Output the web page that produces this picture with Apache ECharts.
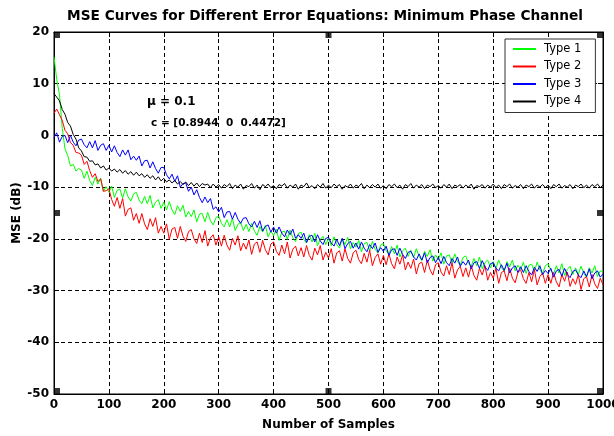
<!DOCTYPE html>
<html>
<head>
<meta charset="utf-8">
<script src="https://cdn.jsdelivr.net/npm/echarts@6/dist/echarts.min.js"></script>
<style>html,body{margin:0;padding:0;background:#fff}#c{width:614px;height:436px}</style>
</head>
<body>
<div id="c"></div>
<script>
// sample spacing of the values below (one value every 5 samples, 0..1000)
const STEP = 5;
const titleText = 'MSE Curves for Different Error Equations: Minimum Phase Channel';
const xName = 'Number of Samples';
const yName = 'MSE (dB)';
const seriesNames = ['Type 1', 'Type 2', 'Type 3', 'Type 4'];
const annotation1 = 'μ = 0.1';
const annotation2 = 'c = [0.8944  0  0.4472]';

const type1 = [
  15.2, 10.8, 7.9, 1.4, -2.6, -3.9, -5.9, -5.6, -6.9, -6.4,
  -6.7, -8.3, -6.9, -8.7, -9.7, -8.1, -9.4, -8.3, -10.8, -9.9,
  -11.0, -9.8, -12.0, -10.6, -10.4, -12.1, -10.3, -11.9, -12.7, -11.3,
  -11.0, -12.5, -13.2, -11.8, -13.2, -11.6, -14.0, -12.9, -12.4, -14.1,
  -12.9, -14.4, -12.8, -14.4, -15.3, -13.6, -14.7, -13.5, -15.8, -14.7,
  -15.7, -14.4, -16.7, -15.2, -15.1, -16.7, -14.9, -16.5, -17.3, -15.9,
  -15.6, -17.0, -17.7, -16.3, -17.7, -16.0, -18.4, -17.2, -16.8, -18.4,
  -17.2, -18.6, -17.0, -18.5, -19.3, -17.6, -18.7, -17.4, -19.6, -18.5,
  -19.4, -18.1, -20.3, -18.7, -18.5, -20.1, -18.3, -19.8, -20.5, -19.0,
  -18.7, -20.1, -20.8, -19.2, -20.6, -18.9, -21.3, -20.1, -19.5, -21.1,
  -19.9, -21.3, -19.6, -21.1, -21.8, -20.0, -21.1, -19.7, -21.9, -20.7,
  -21.6, -20.3, -22.5, -20.9, -20.7, -22.3, -20.5, -22.0, -22.7, -21.2,
  -20.9, -22.3, -23.0, -21.5, -22.9, -21.2, -23.5, -22.3, -21.8, -23.4,
  -22.2, -23.6, -21.9, -23.4, -24.2, -22.4, -23.4, -22.1, -24.3, -23.1,
  -24.0, -22.7, -24.9, -23.3, -23.1, -24.7, -22.9, -24.4, -25.1, -23.6,
  -23.3, -24.7, -25.3, -23.8, -25.2, -23.5, -25.8, -24.6, -24.1, -25.6,
  -24.4, -25.7, -24.1, -25.5, -26.3, -24.4, -25.4, -24.1, -26.2, -25.1,
  -25.9, -24.5, -26.7, -25.1, -24.9, -26.4, -24.5, -26.0, -26.7, -25.2,
  -24.8, -26.1, -26.8, -25.2, -26.6, -24.8, -27.1, -25.9, -25.3, -26.9,
  -25.6, -26.9, -25.3, -26.7, -27.4, -25.6, -26.6, -25.2, -27.3, -26.2,
  -26.3
];

const type2 = [
  4.3, 5.1, 4.0, 2.9, 1.0, 0.3, -1.4, -1.9, -3.3, -3.4,
  -3.8, -5.6, -5.0, -6.8, -8.1, -7.4, -8.9, -8.4, -10.8, -10.7,
  -10.3, -12.4, -13.7, -12.0, -14.1, -12.2, -15.6, -14.3, -14.0, -16.4,
  -15.1, -17.0, -15.1, -17.1, -18.2, -16.1, -17.6, -15.9, -18.9, -17.6,
  -18.9, -17.1, -20.1, -18.1, -17.8, -19.9, -17.6, -19.5, -20.5, -18.6,
  -18.2, -20.0, -20.9, -18.9, -20.7, -18.4, -21.4, -19.8, -19.2, -21.2,
  -19.6, -21.4, -19.3, -21.2, -22.2, -19.9, -21.2, -19.4, -22.3, -20.8,
  -22.0, -20.2, -23.0, -21.0, -20.6, -22.6, -20.3, -22.1, -23.1, -21.0,
  -20.6, -22.4, -23.2, -21.2, -22.9, -20.6, -23.7, -22.0, -21.4, -23.3,
  -21.7, -23.5, -21.3, -23.2, -24.1, -21.8, -23.1, -21.3, -24.1, -22.6,
  -23.7, -21.9, -24.7, -22.7, -22.3, -24.3, -21.9, -23.8, -24.7, -22.7,
  -22.2, -24.0, -24.8, -22.8, -24.5, -22.2, -25.2, -23.6, -22.9, -24.9,
  -23.2, -25.0, -22.9, -24.8, -25.8, -23.5, -24.9, -23.1, -26.0, -24.5,
  -25.7, -23.9, -26.8, -24.8, -24.5, -26.5, -24.1, -26.0, -27.0, -25.0,
  -24.6, -26.4, -27.2, -25.2, -26.9, -24.6, -27.6, -26.0, -25.3, -27.3,
  -25.6, -27.4, -25.2, -27.1, -28.0, -25.7, -27.0, -25.2, -28.0, -26.5,
  -27.6, -25.7, -28.6, -26.5, -26.2, -28.1, -25.7, -27.6, -28.5, -26.5,
  -26.0, -27.7, -28.6, -26.5, -28.3, -25.9, -28.9, -27.3, -26.6, -28.6,
  -26.9, -28.6, -26.5, -28.3, -29.3, -26.9, -28.2, -26.4, -29.2, -27.7,
  -28.8, -26.9, -29.8, -27.7, -27.3, -29.3, -26.9, -28.7, -29.6, -27.6,
  -28.9
];

const type3 = [
  -0.4, 0.5, -1.3, -0.2, 0.0, -1.4, 0.0, -1.3, -2.0, -0.9,
  -0.7, -1.8, -2.4, -1.2, -2.4, -1.0, -2.9, -1.9, -1.6, -2.9,
  -1.9, -3.2, -2.0, -3.3, -4.1, -2.8, -3.8, -2.8, -4.7, -4.0,
  -4.8, -4.0, -5.9, -4.9, -4.8, -6.3, -5.1, -6.4, -7.3, -6.2,
  -6.2, -7.6, -8.4, -7.5, -8.9, -7.8, -10.0, -9.3, -9.2, -10.8,
  -10.0, -11.5, -10.5, -12.0, -13.0, -11.9, -13.0, -12.2, -14.3, -13.8,
  -14.8, -13.9, -15.9, -14.8, -14.7, -16.2, -14.9, -16.2, -17.0, -16.0,
  -15.9, -17.1, -17.7, -16.6, -17.8, -16.5, -18.5, -17.6, -17.3, -18.7,
  -17.7, -18.9, -17.7, -18.9, -19.6, -18.3, -19.2, -18.1, -19.9, -19.2,
  -19.9, -18.9, -20.7, -19.5, -19.3, -20.6, -19.2, -20.4, -21.1, -19.9,
  -19.7, -20.8, -21.4, -20.1, -21.3, -19.9, -21.9, -20.9, -20.5, -21.8,
  -20.8, -22.0, -20.6, -21.8, -22.5, -21.1, -21.9, -20.8, -22.6, -21.7,
  -22.4, -21.4, -23.2, -22.1, -21.9, -23.2, -21.8, -23.0, -23.8, -22.6,
  -22.4, -23.5, -24.1, -22.9, -24.1, -22.7, -24.6, -23.6, -23.3, -24.6,
  -23.6, -24.8, -23.4, -24.6, -25.2, -23.8, -24.7, -23.5, -25.3, -24.4,
  -25.1, -24.1, -25.8, -24.6, -24.4, -25.7, -24.2, -25.4, -26.1, -24.8,
  -24.6, -25.7, -26.2, -25.0, -26.1, -24.7, -26.6, -25.6, -25.2, -26.5,
  -25.4, -26.5, -25.2, -26.3, -27.0, -25.5, -26.3, -25.2, -26.9, -26.1,
  -26.7, -25.7, -27.4, -26.2, -25.9, -27.2, -25.7, -26.9, -27.5, -26.3,
  -26.0, -27.0, -27.5, -26.2, -27.3, -25.8, -27.7, -26.6, -26.2, -27.4,
  -26.8
];

const type4 = [
  8.1, 7.4, 6.7, 5.0, 4.1, 2.5, 1.8, 0.2, -0.7, -2.4,
  -3.0, -4.1, -4.2, -5.0, -4.9, -5.7, -5.5, -6.3, -5.9, -6.7,
  -6.3, -6.9, -6.5, -7.1, -6.6, -7.3, -6.8, -7.5, -7.0, -7.7,
  -7.1, -7.8, -7.4, -8.1, -7.6, -8.3, -7.8, -8.6, -8.0, -8.8,
  -8.3, -9.0, -8.6, -9.2, -8.7, -9.4, -8.9, -9.5, -9.0, -9.7,
  -9.1, -9.8, -9.2, -9.9, -9.3, -9.6, -9.4, -10.1, -9.4, -10.0,
  -9.5, -10.2, -9.5, -9.9, -9.3, -10.3, -9.6, -10.0, -9.4, -10.4,
  -9.7, -9.9, -9.3, -10.2, -9.6, -10.5, -9.5, -9.9, -9.4, -10.1,
  -9.7, -10.3, -9.5, -9.8, -9.3, -10.2, -9.6, -10.0, -9.4, -10.4,
  -9.6, -9.9, -9.2, -10.1, -9.7, -10.3, -9.5, -10.0, -9.3, -10.2,
  -9.6, -10.1, -9.4, -9.9, -9.5, -10.4, -9.7, -10.0, -9.4, -10.2,
  -9.6, -9.9, -9.3, -10.3, -9.6, -10.1, -9.5, -10.0, -9.4, -10.2,
  -9.7, -10.3, -9.5, -9.9, -9.4, -10.1, -9.6, -10.4, -9.5, -9.9,
  -9.3, -10.2, -9.6, -10.0, -9.5, -10.3, -9.6, -9.9, -9.4, -10.1,
  -9.7, -10.2, -9.5, -10.0, -9.4, -10.3, -9.6, -9.9, -9.5, -10.2,
  -9.6, -10.0, -9.4, -10.4, -9.7, -9.9, -9.5, -10.2, -9.6, -10.0,
  -9.4, -10.1, -9.6, -10.3, -9.5, -9.9, -9.4, -10.2, -9.7, -10.0,
  -9.5, -10.3, -9.6, -9.9, -9.4, -10.2, -9.6, -10.0, -9.5, -10.1,
  -9.6, -10.3, -9.5, -9.9, -9.4, -10.2, -9.7, -10.0, -9.5, -10.3,
  -9.6, -9.9, -9.4, -10.1, -9.6, -10.2, -9.5, -9.9, -9.4, -10.1,
  -9.6
];

// MATLAB selection handles drawn on the axes box
const handleX = [0, 500, 1000, 0, 1000, 0, 500, 1000];
const handleY = [20, 20, 20, -15, -15, -50, -50, -50];

const xMin = 0, xMax = 1000, xInterval = 100;
const yMin = -50, yMax = 20, yInterval = 10;

const FONT = 'DejaVu Sans';
const colors = ['#00ff00', '#ff0000', '#0000ff', '#000000'];
const allData = [type1, type2, type3, type4];

const toPairs = arr => arr.map((v, i) => [i * STEP, v]);

const handleData = handleX.map((x, i) => {
  const y = handleY[i];
  const ox = x === xMin ? 3 : (x === xMax ? -3 : 0);
  const oy = y === yMax ? 3 : (y === yMin ? -3 : 0);
  return { value: [x, y], symbolOffset: [ox, oy] };
});

const chart = echarts.init(document.getElementById('c'), null, { renderer: 'canvas' });

const labelStyle = { fontFamily: FONT, fontWeight: 'bold', fontSize: 12, color: '#000' };
const plainFmt = v => String(v);

const option = {
  animation: false,
  backgroundColor: '#ffffff',
  title: {
    text: titleText,
    left: 320,
    textAlign: 'center',
    top: 4,
    textStyle: { fontFamily: FONT, fontWeight: 'bold', fontSize: 13.7, color: '#000' }
  },
  grid: {
    left: 54, right: 11, top: 32, bottom: 42,
    containLabel: false,
    outerBoundsMode: 'none',
    show: true, borderColor: '#000', borderWidth: 1, backgroundColor: '#fff'
  },
  legend: {
    data: seriesNames,
    orient: 'vertical',
    left: 505,
    top: 39,
    padding: [4, 14, 5, 8],
    itemGap: 5.5,
    itemWidth: 23,
    itemHeight: 2,
    icon: 'rect',
    backgroundColor: '#fff',
    borderColor: '#333',
    borderWidth: 1,
    textStyle: { fontFamily: FONT, fontSize: 11.5, color: '#000', padding: [0, 0, 0, 3] }
  },
  xAxis: [
    {
      type: 'value', min: xMin, max: xMax, interval: xInterval, position: 'bottom',
      name: xName, nameLocation: 'middle', nameGap: 25, nameMoveOverlap: false,
      nameTextStyle: labelStyle,
      axisLine: { show: true, onZero: false, lineStyle: { color: '#000', width: 1 } },
      axisTick: { show: true, inside: true, length: 5, lineStyle: { color: '#000' } },
      axisLabel: Object.assign({ margin: 5, formatter: plainFmt, hideOverlap: false }, labelStyle),
      splitLine: { show: true, lineStyle: { color: '#000', width: 1, type: [4, 3] } }
    },
    {
      type: 'value', min: xMin, max: xMax, interval: xInterval, position: 'top',
      axisLine: { show: true, onZero: false, lineStyle: { color: '#000', width: 1 } },
      axisTick: { show: true, inside: true, length: 5, lineStyle: { color: '#000' } },
      axisLabel: { show: false },
      splitLine: { show: false }
    }
  ],
  yAxis: [
    {
      type: 'value', min: yMin, max: yMax, interval: yInterval, position: 'left',
      name: yName, nameLocation: 'middle', nameGap: 31, nameMoveOverlap: false,
      nameTextStyle: labelStyle,
      axisLine: { show: true, onZero: false, lineStyle: { color: '#000', width: 1 } },
      axisTick: { show: true, inside: true, length: 5, lineStyle: { color: '#000' } },
      axisLabel: Object.assign({ margin: 5, formatter: plainFmt }, labelStyle),
      splitLine: { show: true, lineStyle: { color: '#000', width: 1, type: [4, 3] } }
    },
    {
      type: 'value', min: yMin, max: yMax, interval: yInterval, position: 'right',
      axisLine: { show: true, onZero: false, lineStyle: { color: '#000', width: 1 } },
      axisTick: { show: true, inside: true, length: 5, lineStyle: { color: '#000' } },
      axisLabel: { show: false },
      splitLine: { show: false }
    }
  ],
  graphic: [
    { type: 'text', left: 147, top: 96, z: 100,
      style: { text: annotation1, font: 'bold 12px "DejaVu Sans"', fill: '#000' } },
    { type: 'text', left: 151, top: 118, z: 100,
      style: { text: annotation2, font: 'bold 10.5px "DejaVu Sans"', fill: '#000' } }
  ],
  series: allData.map((arr, k) => ({
    name: seriesNames[k],
    type: 'line',
    xAxisIndex: 0, yAxisIndex: 0,
    data: toPairs(arr),
    showSymbol: false,
    symbol: 'none',
    color: colors[k],
    lineStyle: { color: colors[k], width: 1 },
    emphasis: { disabled: true },
    silent: true,
    z: 2 + k
  })).concat([{
    type: 'scatter',
    xAxisIndex: 0, yAxisIndex: 0,
    data: handleData,
    symbol: 'rect',
    symbolSize: 6,
    itemStyle: { color: '#000' },
    clip: false,
    silent: true,
    z: 10
  }])
};

chart.setOption(option);
</script>
</body>
</html>
